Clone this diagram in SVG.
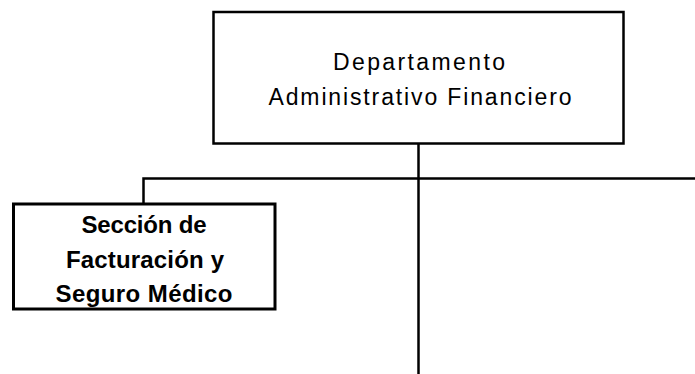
<svg xmlns="http://www.w3.org/2000/svg" width="695" height="374" viewBox="0 0 695 374">
<style>
.box{fill:#fff;stroke:#000}
.line{fill:none;stroke:#000;stroke-width:2.5}
.t{font-family:"Liberation Sans",Arial,sans-serif;fill:#000;text-anchor:middle}
.r{font-size:23px}
.b{font-size:24px;font-weight:bold}
</style>
<rect width="695" height="374" fill="#fff"/>
<g id="connectors">
<path class="line" d="M418.5 143 V374"/>
<path class="line" d="M143.5 204 V178.5 H695"/>
</g>
<g id="dept">
<rect class="box" x="213.5" y="12" width="410" height="131.5" stroke-width="2.5"/>
<text class="t r" x="419" y="70" textLength="172" lengthAdjust="spacing">Departamento</text>
<text class="t r" x="420" y="105" textLength="303" lengthAdjust="spacing">Administrativo Financiero</text>
</g>
<g id="seccion">
<rect class="box" x="13.5" y="204" width="261.5" height="105" stroke-width="3"/>
<text class="t b" x="144" y="233" textLength="125" lengthAdjust="spacing">Sección de</text>
<text class="t b" x="145" y="268" textLength="158" lengthAdjust="spacing">Facturación y</text>
<text class="t b" x="144" y="302" textLength="177" lengthAdjust="spacing">Seguro Médico</text>
</g>
</svg>
